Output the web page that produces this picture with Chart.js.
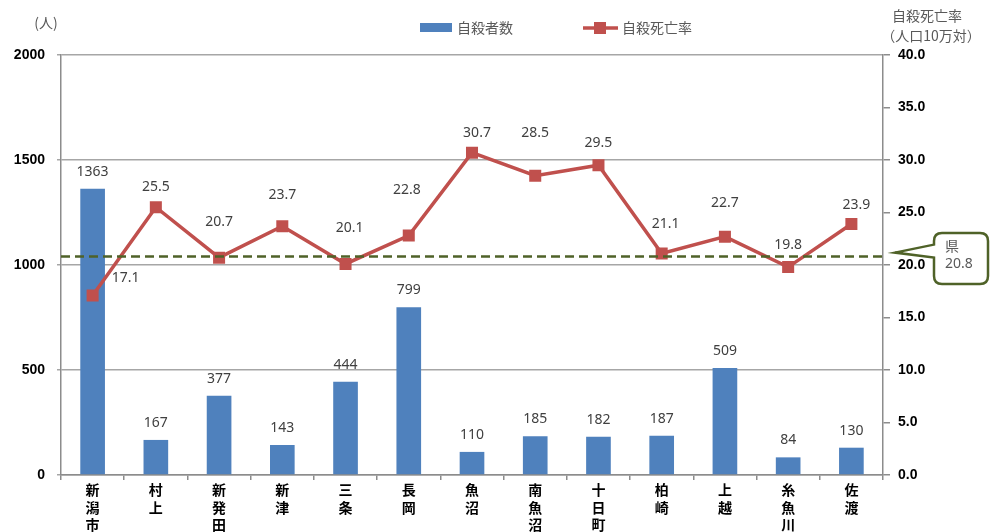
<!DOCTYPE html>
<html><head><meta charset="utf-8">
<script src="https://cdn.jsdelivr.net/npm/chart.js@4"></script>
<style>html,body{margin:0;padding:0;background:#fff;}#wrap{width:990px;height:532px;}</style>
</head><body><div id="wrap"><canvas id="c" width="990" height="532"></canvas></div>
<script>
const categories = ['新潟市','村上','新発田','新津','三条','長岡','魚沼','南魚沼','十日町','柏崎','上越','糸魚川','佐渡'];
const suicides = [1363,167,377,143,444,799,110,185,182,187,509,84,130];
const rates = [17.1,25.5,20.7,23.7,20.1,22.8,30.7,28.5,29.5,21.1,22.7,19.8,23.9];
const prefRate = 20.8;
const leftTicks = {min:0, max:2000, step:500};
const rightTicks = {min:0, max:40, step:5};

// label placement (pixel offsets from each rate marker), layout only
const rateLabelOffsets = [[33,-17],[0,-20],[0,-36],[0,-31],[4,-36],[-2,-46],[5,-20],[0,-43],[0,-22],[4,-29],[0,-34],[0,-22],[5,-19]];

const FONT = "'Noto Sans','Noto Sans CJK JP',sans-serif";
const JFONT = "'Noto Sans CJK JP','Noto Sans',sans-serif";

const overlay = {
  id:'overlay',
  afterDatasetsDraw(chart){
    const ctx = chart.ctx, a = chart.chartArea;
    const y1 = chart.scales.y1;
    const yp = y1.getPixelForValue(prefRate);
    ctx.save();
    ctx.strokeStyle = '#4f6228';
    ctx.lineWidth = 2.5;
    ctx.setLineDash([9,5]);
    ctx.beginPath(); ctx.moveTo(a.left, yp); ctx.lineTo(a.right, yp); ctx.stroke();
    ctx.restore();
  },
  afterDraw(chart){
    const ctx = chart.ctx;
    const barMeta = chart.getDatasetMeta(0), lineMeta = chart.getDatasetMeta(1);
    ctx.save();
    ctx.fillStyle = '#404040';
    ctx.font = '14px ' + FONT;
    ctx.textAlign = 'center'; ctx.textBaseline = 'middle';
    barMeta.data.forEach((b,i)=>{ ctx.fillText(String(suicides[i]), b.x, b.y - 17); });
    lineMeta.data.forEach((p,i)=>{
      const o = rateLabelOffsets[i];
      ctx.fillText(rates[i].toFixed(1), p.x + o[0], p.y + o[1]);
    });
    ctx.fillStyle = '#595959';
    ctx.font = '14px ' + JFONT;
    ctx.textAlign = 'center';
    ctx.fillText('(人)', 46, 23);
    ctx.fillText('自殺死亡率', 927, 16);
    ctx.fillText('（人口10万対）', 931, 36);
    ctx.fillStyle = '#4f81bd';
    ctx.fillRect(420, 23, 32, 9);
    ctx.fillStyle = '#595959';
    ctx.textAlign = 'left';
    ctx.fillText('自殺者数', 457, 28);
    ctx.strokeStyle = '#c0504d'; ctx.lineWidth = 3.5;
    ctx.beginPath(); ctx.moveTo(583, 28); ctx.lineTo(618, 28); ctx.stroke();
    ctx.fillStyle = '#c0504d';
    ctx.fillRect(594, 22, 12, 12);
    ctx.fillStyle = '#595959';
    ctx.fillText('自殺死亡率', 622, 28);
    const yp = chart.scales.y1.getPixelForValue(prefRate);
    const L=934, T=233, R=988, B=284, r=8;
    ctx.beginPath();
    ctx.moveTo(L+r, T);
    ctx.lineTo(R-r, T); ctx.quadraticCurveTo(R, T, R, T+r);
    ctx.lineTo(R, B-r); ctx.quadraticCurveTo(R, B, R-r, B);
    ctx.lineTo(L+r, B); ctx.quadraticCurveTo(L, B, L, B-r);
    ctx.lineTo(L, yp+1);
    ctx.lineTo(895, yp-4);
    ctx.lineTo(L, yp-12);
    ctx.lineTo(L, T+r); ctx.quadraticCurveTo(L, T, L+r, T);
    ctx.closePath();
    ctx.fillStyle = '#fff'; ctx.fill();
    ctx.strokeStyle = '#4f6228'; ctx.lineWidth = 2.5; ctx.setLineDash([]); ctx.stroke();
    ctx.fillStyle = '#595959';
    ctx.font = '14px ' + JFONT;
    ctx.textAlign = 'left';
    ctx.fillText('県', 945, 246);
    ctx.font = '14px ' + FONT;
    ctx.fillText(prefRate.toFixed(1), 945, 264);
    ctx.restore();
  }
};

new Chart(document.getElementById('c'), {
  data: {
    labels: categories.map(s => s.split('')),
    datasets: [
      {type:'bar', label:'自殺者数', data:suicides, yAxisID:'y', backgroundColor:'#4f81bd', barPercentage:0.39, categoryPercentage:1, order:2},
      {type:'line', label:'自殺死亡率', data:rates, yAxisID:'y1', borderColor:'#c0504d', borderWidth:3.5,
       pointStyle:'rect', pointRadius:8.5, pointHoverRadius:8.5, pointBackgroundColor:'#c0504d', pointBorderColor:'#c0504d', pointBorderWidth:0, tension:0, order:1}
    ]
  },
  options: {
    responsive:false, animation:false, devicePixelRatio:1,
    layout:{padding:{top:55, left:0, right:0, bottom:0}},
    plugins:{legend:{display:false}, tooltip:{enabled:false}},
    scales:{
      x:{
        offset:true,
        grid:{offset:true, drawOnChartArea:false, tickLength:5, color:'#8c8c8c', lineWidth:1.5},
        border:{color:'#8c8c8c', width:1.5},
        ticks:{color:'#000', font:{family:JFONT, size:14, weight:'bold', lineHeight:1.25}, padding:1, maxRotation:0, autoSkip:false},
        afterFit(s){ s.height = 57; }
      },
      y:{
        position:'left', min:leftTicks.min, max:leftTicks.max,
        ticks:{stepSize:leftTicks.step, color:'#000', font:{family:"'Liberation Sans',sans-serif", size:14, weight:'bold'}, padding:12, callback:v=>String(v)},
        grid:{color:'#a6a6a6', lineWidth:1.5, tickLength:4},
        border:{color:'#8c8c8c', width:1.5},
        afterFit(s){ s.width = 61; }
      },
      y1:{
        position:'right', min:rightTicks.min, max:rightTicks.max,
        ticks:{stepSize:rightTicks.step, color:'#000', font:{family:"'Liberation Sans',sans-serif", size:14, weight:'bold'}, padding:8, callback:v=>Number(v).toFixed(1)},
        grid:{drawOnChartArea:false, color:'#8c8c8c', lineWidth:1.5, tickLength:7},
        border:{color:'#8c8c8c', width:1.5},
        afterFit(s){ s.width = 107; }
      }
    }
  },
  plugins:[overlay]
});
</script></body></html>
